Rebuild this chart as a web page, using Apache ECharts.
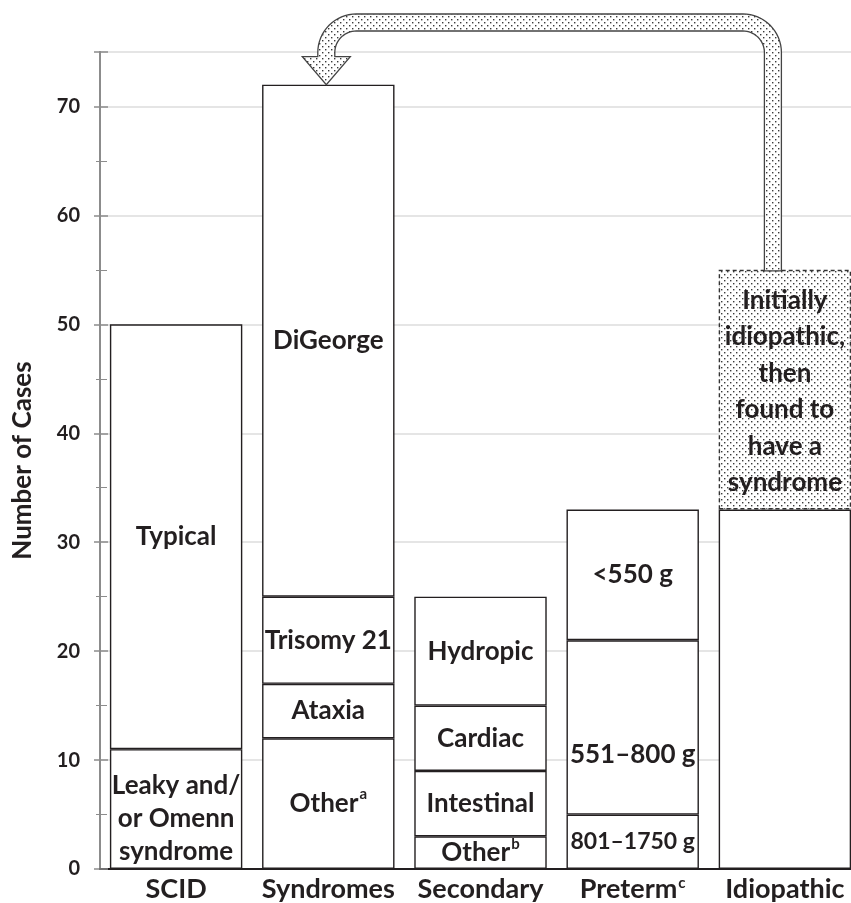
<!DOCTYPE html>
<html><head><meta charset="utf-8">
<script src="https://cdn.jsdelivr.net/npm/echarts@6/dist/echarts.min.js"></script>
<style>html,body{margin:0;padding:0;background:#fff}#c{width:851px;height:903px}</style>
</head><body><div id="c"></div>
<script>
const categories = ['SCID', 'Syndromes', 'Secondary', 'Preterm', 'Idiopathic'];
const categorySup = ['', '', '', 'c', ''];
const yTicks = [0, 10, 20, 30, 40, 50, 60, 70];
// stacked segments, bottom to top
const seg1 = [11, 12, 3, 5, 33];
const seg1Labels = ['Leaky and/\nor Omenn\nsyndrome', 'Other{sup|a}', 'Other{sup|b}', '801–1750 g', ''];
const seg2 = [39, 5, 6, 16, 22];
const seg2Labels = ['Typical', 'Ataxia', 'Intestinal', '551–800 g', 'Initially\nidiopathic,\nthen\nfound to\nhave a\nsyndrome'];
const seg3 = [null, 8, 6, 12, null];
const seg3Labels = ['', 'Trisomy 21', 'Cardiac', '<550 g', ''];
const seg4 = [null, 47, 10, null, null];
const seg4Labels = ['', 'DiGeorge', 'Hydropic', '', ''];
const dottedIndex = 4; // idiopathic reclassified segment (seg2)
const arrowFrom = {cat: 4, value: 55};
const arrowTo = {cat: 1, value: 72};

const TXT = '#231f20';
const FONT = 'Lato';

// dotted pattern
const pc = document.createElement('canvas');
pc.width = 6; pc.height = 6;
const pctx = pc.getContext('2d');
pctx.fillStyle = '#fff'; pctx.fillRect(0, 0, 6, 6);
pctx.fillStyle = '#3a3a3a';
pctx.fillRect(1, 1, 1.4, 1.4);
pctx.fillRect(4, 4, 1.4, 1.4);
const dotPattern = {image: pc, repeat: 'repeat'};

const rich = {sup: {fontSize: 15, fontWeight: 'bold', fontFamily: FONT, color: TXT, verticalAlign: 'top', padding: [0, 0, 9, 1]}};

function makeSeries(vals, labels, idx) {
  return {
    type: 'bar', stack: 'a', barCategoryGap: '13%',
    data: vals.map((v, i) => {
      const item = {value: v, label: {formatter: labels[i]}};
      if (idx === 1 && i === dottedIndex) {
        item.itemStyle = {color: dotPattern, borderType: [4, 3], borderColor: '#333'};
        item.label.lineHeight = 36.5;
        item.label.offset = [0, 2];
      }
      if (labels[i] === '801–1750 g') item.label.fontSize = 23;
      if (labels[i] === '551–800 g') item.label.offset = [0, 27];
      if (labels[i].indexOf('Leaky') === 0) item.label.offset = [0, 10];
      return item;
    }),
    itemStyle: {color: '#fff', borderColor: TXT, borderWidth: 1.4},
    label: {show: true, position: 'inside', color: TXT, fontFamily: FONT, fontWeight: 'bold', fontSize: 26, lineHeight: 33, rich: rich},
    emphasis: {disabled: true}
  };
}

const chart = echarts.init(document.getElementById('c'), null, {renderer: 'canvas'});
const yBase = {type: 'value', min: 0, max: 75, interval: 10, position: 'left',
  axisLine: {show: true, lineStyle: {color: '#8c8c8c', width: 2}}};
chart.setOption({
  animation: false,
  grid: {left: 100, right: -10, top: 52, bottom: 34, outerBoundsMode: 'none', containLabel: false},
  xAxis: [{
    type: 'category', data: categories,
    axisLine: {show: true, lineStyle: {color: TXT, width: 2}},
    axisTick: {show: false},
    axisLabel: {interval: 0, color: TXT, fontFamily: FONT, fontWeight: 'bold', fontSize: 27, margin: 7,
      formatter: (v, i) => categorySup[i] ? v + '{sup|' + categorySup[i] + '}' : v, rich: rich}
  }, {
    type: 'category', data: categories, position: 'top',
    axisLine: {show: true, lineStyle: {color: TXT, width: 1.5}},
    axisTick: {show: false}, axisLabel: {show: false}
  }],
  yAxis: [Object.assign({}, yBase, {
    name: 'Number of Cases', nameLocation: 'middle', nameGap: 64,
    nameTextStyle: {color: TXT, fontFamily: FONT, fontWeight: 'bold', fontSize: 26},
    axisTick: {show: true, length: 6, lineStyle: {color: '#8c8c8c', width: 1.5}},
    minorTick: {show: true, splitNumber: 2, length: 4, lineStyle: {color: '#8c8c8c', width: 1}},
    axisLabel: {color: TXT, fontFamily: FONT, fontWeight: 'bold', fontSize: 20, margin: 20,
      showMaxLabel: false, formatter: v => yTicks.indexOf(v) >= 0 ? String(v) : ''},
    splitLine: {show: true, lineStyle: {color: '#dcdcdc', width: 1.5}}
  }), Object.assign({}, yBase, {
    axisTick: {show: true, inside: true, length: 8, lineStyle: {color: '#8c8c8c', width: 1.5}},
    minorTick: {show: true, splitNumber: 2, length: 7, lineStyle: {color: '#8c8c8c', width: 1}},
    axisLabel: {show: false}, splitLine: {show: false}
  })],
  series: [
    makeSeries(seg1, seg1Labels, 0),
    makeSeries(seg2, seg2Labels, 1),
    makeSeries(seg3, seg3Labels, 2),
    makeSeries(seg4, seg4Labels, 3)
  ]
});

// curved arrow from idiopathic top to syndromes top (polygon with arc points)
const pFrom = chart.convertToPixel({gridIndex: 0}, [arrowFrom.cat, arrowFrom.value]);
const pTo = chart.convertToPixel({gridIndex: 0}, [arrowTo.cat, arrowTo.value]);
const cx1 = pFrom[0] - 12, yBot = pFrom[1] + 1;
const cx2 = pTo[0] - 2, yTip = pTo[1];
const yTop = 22.5, w = 8.5, R = 30, hw = 24, yHead = yTip - 28;
function arc(cx, cy, r, a0, a1) {
  const pts = [], n = 16;
  for (let k = 0; k <= n; k++) {
    const a = (a0 + (a1 - a0) * k / n) * Math.PI / 180;
    pts.push([cx + r * Math.cos(a), cy + r * Math.sin(a)]);
  }
  return pts;
}
let pts = [[cx1 + w, yBot]];
pts = pts.concat(arc(cx1 - R, yTop + R, R + w, 0, -90));
pts = pts.concat(arc(cx2 + R, yTop + R, R + w, -90, -180));
pts.push([cx2 - w, yHead], [cx2 - hw, yHead], [cx2, yTip], [cx2 + hw, yHead], [cx2 + w, yHead]);
pts = pts.concat(arc(cx2 + R, yTop + R, R - w, -180, -90));
pts = pts.concat(arc(cx1 - R, yTop + R, R - w, -90, 0));
pts.push([cx1 - w, yBot]);
chart.setOption({graphic: [{type: 'polygon', z: 100, shape: {points: pts},
  style: {fill: dotPattern, stroke: '#444', lineWidth: 1.3}}]});
</script>
</body></html>
